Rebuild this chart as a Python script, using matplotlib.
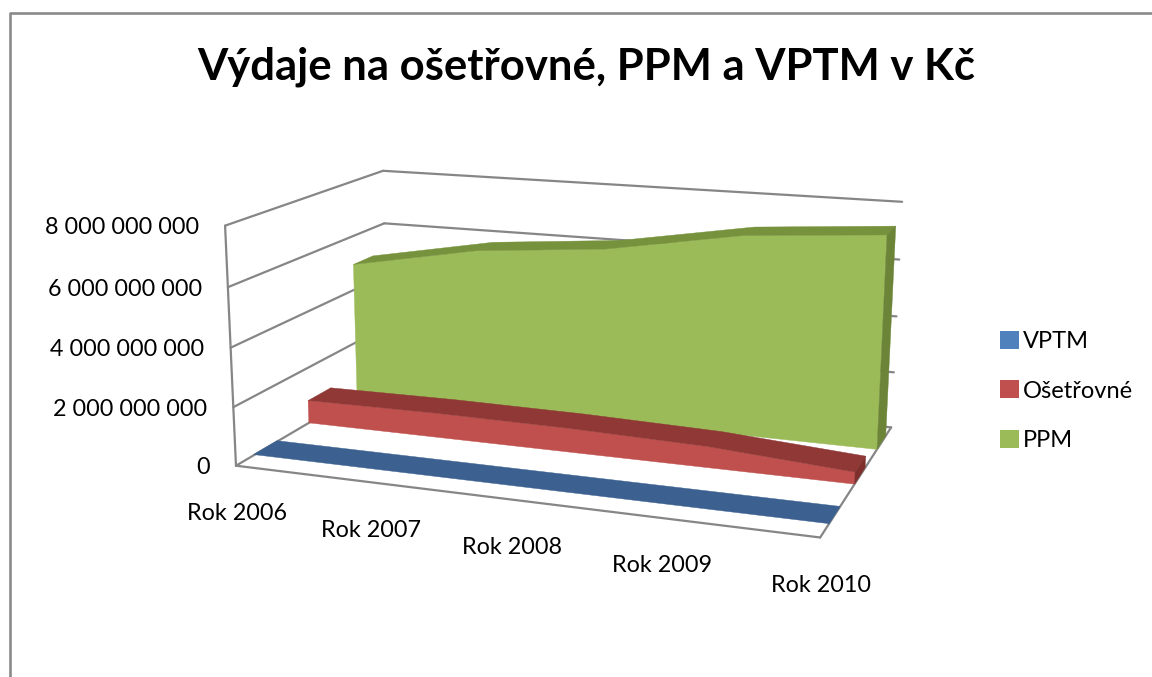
import numpy as np
import matplotlib
matplotlib.use("Agg")
import matplotlib.pyplot as plt
from matplotlib.patches import Patch, Polygon

# data
years = ["Rok 2006", "Rok 2007", "Rok 2008", "Rok 2009", "Rok 2010"]
vptm = [30000000, 30000000, 30000000, 30000000, 30000000]
osetrovne = [820000000, 860000000, 830000000, 720000000, 400000000]
ppm = [4950000000, 5800000000, 6200000000, 7000000000, 7350000000]
value_ticks = [0, 2000000000, 4000000000, 6000000000, 8000000000]
value_labels = ["0", "2 000 000 000", "4 000 000 000", "6 000 000 000", "8 000 000 000"]
title = "Výdaje na ošetřovné, PPM a VPTM v Kč"

GRID = "#868686"
ZMAX = 8000000000

# chart box corners on the page, used to fit the camera (cat, depth, value share) -> (px, py)
corners = [
    ((0, 0, 0), (236, 466)), ((0, 0, 0.25), (234, 407)), ((0, 0, 0.5), (231, 347)),
    ((0, 0, 0.75), (228, 287)), ((0, 0, 1), (224, 226)),
    ((0, 1, 0), (387, 377)), ((0, 1, 0.75), (385, 223)), ((0, 1, 1), (383, 171)),
    ((4, 0, 0), (820, 538)), ((4, 1, 0), (891, 427)), ((4, 1, 0.25), (894, 372)),
    ((4, 1, 0.5), (897, 316)), ((4, 1, 0.75), (899, 260)), ((4, 1, 1), (902, 202)),
]


def fit_camera(pairs):
    rows = []
    for (x, y, z), (u, v) in pairs:
        rows.append([x, y, z, 1, 0, 0, 0, 0, -u * x, -u * y, -u * z, -u])
        rows.append([0, 0, 0, 0, x, y, z, 1, -v * x, -v * y, -v * z, -v])
    return np.linalg.svd(np.array(rows, dtype=float))[2][-1].reshape(3, 4)


CAM = fit_camera(corners)


def project(x, y, value):
    p = CAM @ np.array([x, y, value / ZMAX, 1.0])
    return p[0] / p[2], p[1] / p[2]


plt.rcParams["font.family"] = ["Lato", "DejaVu Sans"]
fig = plt.figure(figsize=(11.52, 6.77), dpi=100)
ax = fig.add_axes([0, 0, 1, 1])
ax.set_xlim(0, 1152)
ax.set_ylim(677, 0)
ax.axis("off")


def line3d(a, b):
    pa, pb = project(*a), project(*b)
    ax.plot([pa[0], pb[0]], [pa[1], pb[1]], color=GRID, lw=1.6, solid_capstyle="round", zorder=1)


# outer frame, only top and left are inside the picture
ax.plot([9.5, 9.5, 1152], [677, 12.5, 12.5], color="#8a8a8a", lw=1.9, zorder=1)

# walls and floor
for v in value_ticks:
    line3d((0, 0, v), (0, 1, v))
    line3d((0, 1, v), (4, 1, v))
line3d((0, 0, 0), (0, 0, ZMAX))
line3d((0, 0, 0), (4, 0, 0))
line3d((4, 0, 0), (4, 1, 0))


def ribbon(values, y0, y1, front, top, side):
    n = len(values)
    xs = np.arange(n)
    if front is not None:
        pts = [project(x, y0, v) for x, v in zip(xs, values)]
        pts += [project(x, y0, 0) for x in xs[::-1]]
        ax.add_patch(Polygon(pts, closed=True, fc=front, ec=front, lw=0.3, zorder=3))
    pts = [project(x, y0, v) for x, v in zip(xs, values)]
    pts += [project(x, y1, v) for x, v in zip(xs[::-1], values[::-1])]
    ax.add_patch(Polygon(pts, closed=True, fc=top, ec=top, lw=0.3, zorder=3))
    end = [project(4, y0, values[-1]), project(4, y1, values[-1]), project(4, y1, 0), project(4, y0, 0)]
    ax.add_patch(Polygon(end, closed=True, fc=side, ec=side, lw=0.3, zorder=3))


# back to front
ribbon(ppm, 0.77, 0.91, "#9BBB59", "#76923C", "#6B8438")
ribbon(osetrovne, 0.44, 0.59, "#C0504D", "#8F3835", "#7E2F2C")
ribbon(vptm, 0.10, 0.24, None, "#3C6190", "#3C6190")

# tick labels
for v, label in zip(value_ticks, value_labels):
    px, py = project(0, 0, v)
    ax.text(px - 26, py + 2, label, ha="right", va="center", fontsize=16.8, color="black")
for i, label in enumerate(years):
    px, py = project(i, 0, 0)
    ax.text(px + 1, py + 48, label, ha="center", va="center", fontsize=16.8, color="black")

ax.text(586, 67, title, ha="center", va="center", fontsize=31.4, fontweight="bold", color="black")

handles = [Patch(fc="#4F81BD", label="VPTM"), Patch(fc="#C0504D", label="Ošetřovné"), Patch(fc="#9BBB59", label="PPM")]
ax.legend(handles=handles, loc="center left", bbox_to_anchor=(979 / 1152, 1 - 391 / 677), frameon=False,
          fontsize=17, handlelength=0.8, handleheight=0.8, handletextpad=0.15, labelspacing=1.2)

plt.savefig("out.png", dpi=100)
